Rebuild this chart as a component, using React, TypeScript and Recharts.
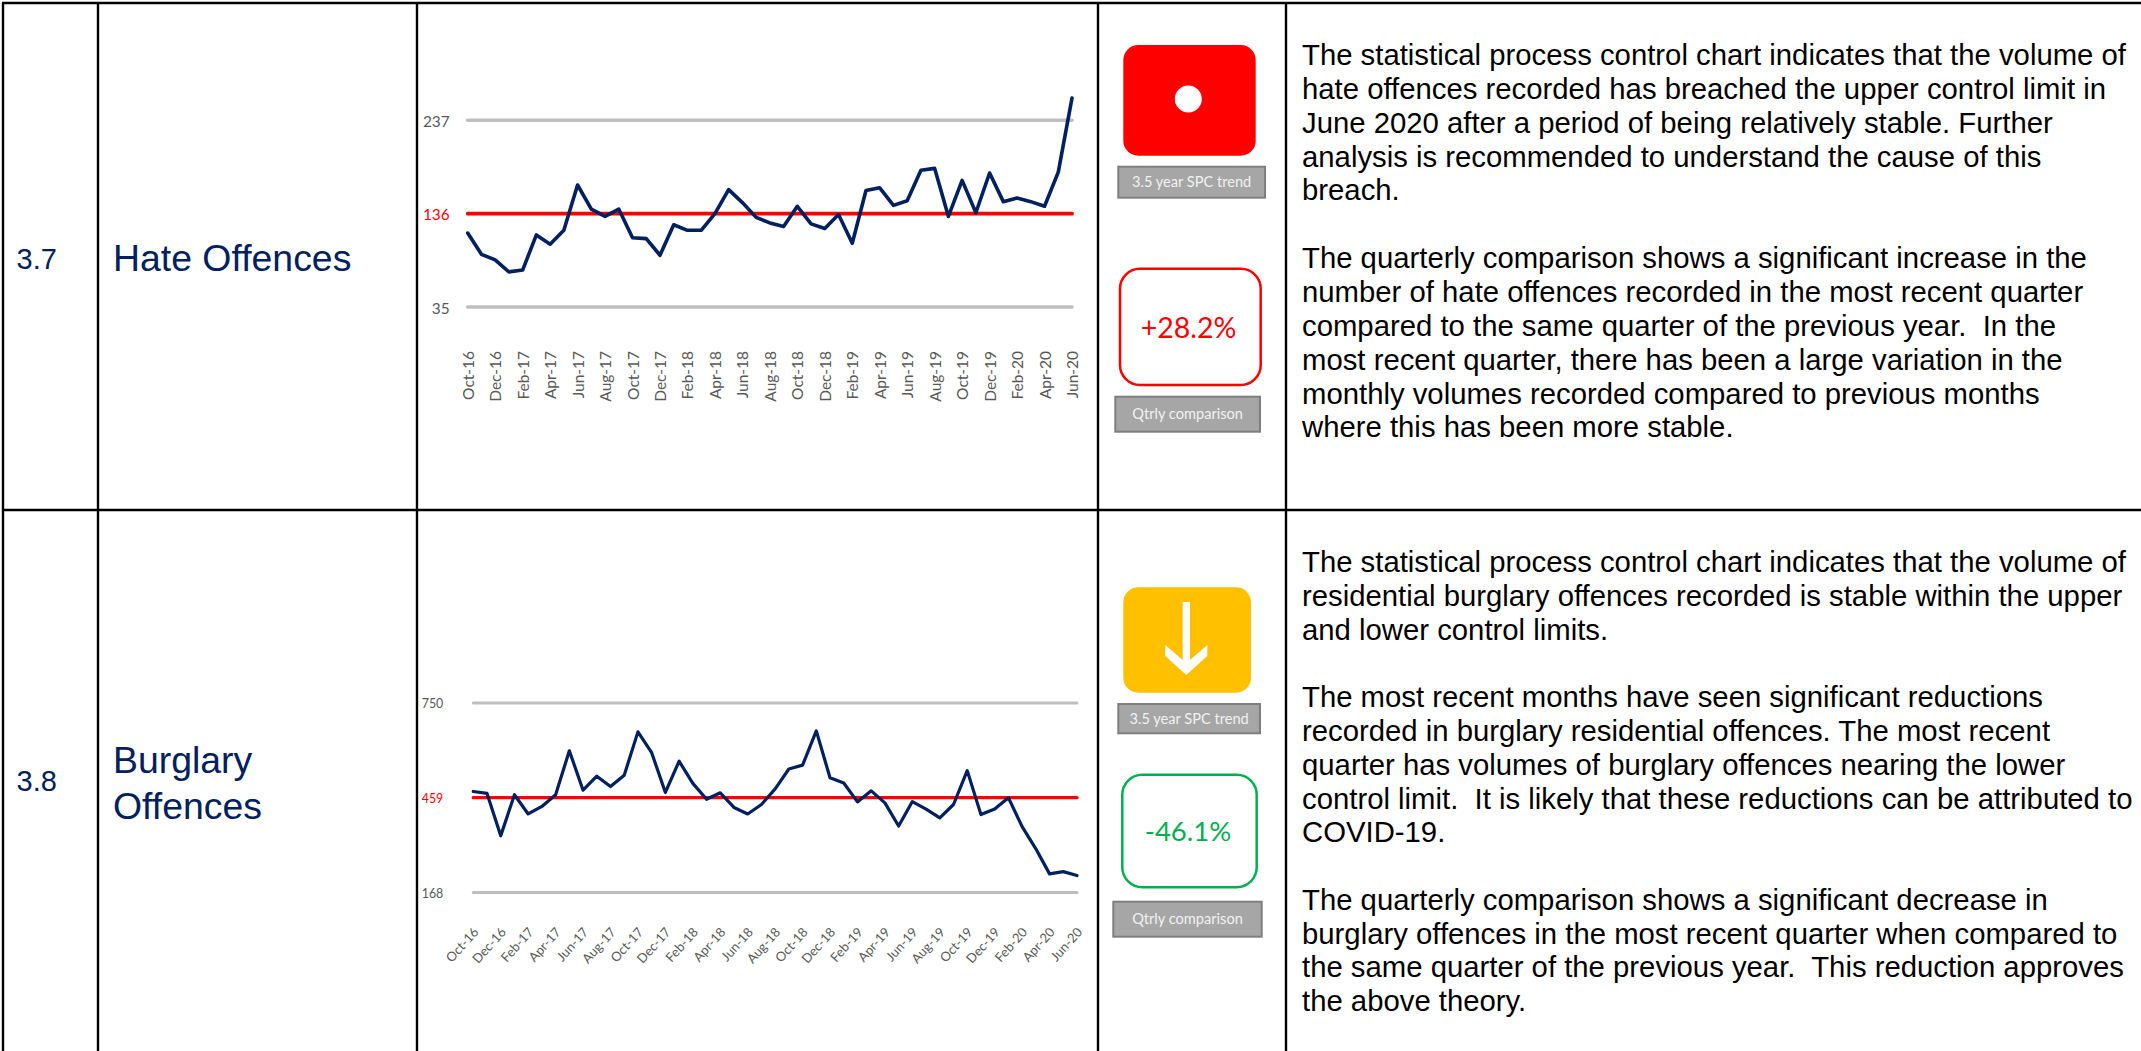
import { LineChart, Line, XAxis, YAxis } from 'recharts';

const months = [
  "Oct-16", "Nov-16", "Dec-16", "Jan-17", "Feb-17", "Mar-17", "Apr-17", "May-17", "Jun-17", "Jul-17", "Aug-17", "Sep-17",
  "Oct-17", "Nov-17", "Dec-17", "Jan-18", "Feb-18", "Mar-18", "Apr-18", "May-18", "Jun-18", "Jul-18", "Aug-18", "Sep-18",
  "Oct-18", "Nov-18", "Dec-18", "Jan-19", "Feb-19", "Mar-19", "Apr-19", "May-19", "Jun-19", "Jul-19", "Aug-19", "Sep-19",
  "Oct-19", "Nov-19", "Dec-19", "Jan-20", "Feb-20", "Mar-20", "Apr-20", "May-20", "Jun-20",
];

const hateValues = [
  115, 92, 86, 73, 75, 113, 103, 118, 167, 141, 133, 141,
  110, 109, 91, 124, 118, 118, 136, 162, 148, 132, 126, 122,
  144, 125, 120, 135, 104, 161, 164, 145, 150, 183, 185, 133,
  172, 137, 180, 149, 153, 149, 144, 181, 261,
];
const hateLimits = { lower: 35, mean: 136, upper: 237 };

const burglaryValues = [
  478, 472, 342, 468, 409, 432, 468, 603, 482, 525, 493, 528,
  661, 597, 475, 571, 503, 454, 474, 429, 409, 438, 486, 547,
  559, 664, 520, 504, 446, 480, 443, 372, 447, 424, 397, 438,
  542, 407, 424, 459, 370, 302, 225, 232, 220,
];
const burglaryLimits = { lower: 168, mean: 459, upper: 750 };

const hateText = [
  "The statistical process control chart indicates that the volume of",
  "hate offences recorded has breached the upper control limit in",
  "June 2020 after a period of being relatively stable. Further",
  "analysis is recommended to understand the cause of this",
  "breach.",
  "",
  "The quarterly comparison shows a significant increase in the",
  "number of hate offences recorded in the most recent quarter",
  "compared to the same quarter of the previous year.  In the",
  "most recent quarter, there has been a large variation in the",
  "monthly volumes recorded compared to previous months",
  "where this has been more stable.",
];

const burglaryText = [
  "The statistical process control chart indicates that the volume of",
  "residential burglary offences recorded is stable within the upper",
  "and lower control limits.",
  "",
  "The most recent months have seen significant reductions",
  "recorded in burglary residential offences. The most recent",
  "quarter has volumes of burglary offences nearing the lower",
  "control limit.  It is likely that these reductions can be attributed to",
  "COVID-19.",
  "",
  "The quarterly comparison shows a significant decrease in",
  "burglary offences in the most recent quarter when compared to",
  "the same quarter of the previous year.  This reduction approves",
  "the above theory.",
];

const NAVY = "#002060";
const ARIAL = "'Liberation Sans', Arial, sans-serif";
const CALIBRI = "Lato, sans-serif";

const buildRows = (values: number[], limits: { lower: number; mean: number; upper: number }) =>
  months.map((month, i) => ({ month, value: values[i], ...limits }));

const YTick = ({ x, y, payload, mean, fontSize, dx }: any) => (
  <text
    x={x - dx}
    y={y}
    dy={fontSize * 0.36 + 1}
    textAnchor="end"
    fontFamily={CALIBRI}
    fontSize={fontSize}
    fill={payload.value === mean ? "#ff0000" : "#595959"}
  >
    {payload.value}
  </text>
);

const XTickUp = ({ x, y, payload }: any) => (
  <text
    transform={`translate(${x + 6},${y + 30}) rotate(-90)`}
    textAnchor="end"
    fontFamily={CALIBRI}
    fontSize={15.5}
    fill="#595959"
  >
    {payload.value}
  </text>
);

const XTickSlant = ({ x, y, payload }: any) => (
  <text
    transform={`translate(${x + 6},${y + 18}) rotate(-48)`}
    textAnchor="end"
    fontFamily={CALIBRI}
    fontSize={13}
    fill="#595959"
  >
    {payload.value}
  </text>
);

const SpcChart = ({ rows, limits, domain, size, margin, yWidth, xHeight, XTick, yFont, yDx, widths }: any) => (
  <LineChart width={size[0]} height={size[1]} data={rows} margin={margin}>
    <XAxis
      dataKey="month"
      interval={1}
      height={xHeight}
      axisLine={false}
      tickLine={false}
      tickSize={0}
      tickMargin={0}
      tick={<XTick />}
    />
    <YAxis
      domain={domain}
      ticks={[limits.lower, limits.mean, limits.upper]}
      width={yWidth}
      axisLine={false}
      tickLine={false}
      tickSize={0}
      tickMargin={0}
      tick={<YTick mean={limits.mean} fontSize={yFont} dx={yDx} />}
    />
    <Line dataKey="upper" stroke="#bfbfbf" strokeWidth={widths[0]} strokeLinecap="round" dot={false} activeDot={false} isAnimationActive={false} />
    <Line dataKey="lower" stroke="#bfbfbf" strokeWidth={widths[0]} strokeLinecap="round" dot={false} activeDot={false} isAnimationActive={false} />
    <Line dataKey="mean" stroke="#ff0000" strokeWidth={widths[1]} strokeLinecap="round" dot={false} activeDot={false} isAnimationActive={false} />
    <Line dataKey="value" stroke={NAVY} strokeWidth={widths[2]} strokeLinecap="round" strokeLinejoin="round" dot={false} activeDot={false} isAnimationActive={false} />
  </LineChart>
);

const GreyLabel = ({ x, y, w, h, text }: any) => (
  <g>
    <rect x={x} y={y} width={w} height={h} fill="#a6a6a6" stroke="#7f7f7f" strokeWidth={2} />
    <text x={x + w / 2} y={y + h / 2 + 5} textAnchor="middle" fontFamily={CALIBRI} fontSize={14.6} fill="#f2f2f2">
      {text}
    </text>
  </g>
);

const Paragraphs = ({ lines, baseline, pitch }: any) => (
  <text fontFamily={ARIAL} fontSize={29.3} fill="#000000" style={{ whiteSpace: "pre" }}>
    {lines.map((line: string, i: number) => (
      <tspan key={i} x={1302} y={baseline + i * pitch}>
        {line}
      </tspan>
    ))}
  </text>
);

const Page = () => (
  <svg width={2141} height={1051} style={{ position: "absolute", left: 0, top: 0 }}>
    {/* table rules */}
    <g stroke="#000000" strokeWidth={2.4}>
      <line x1={2} y1={3} x2={2141} y2={3} />
      <line x1={2} y1={510} x2={2141} y2={510} />
      <line x1={3} y1={3} x2={3} y2={1051} />
      <line x1={98} y1={3} x2={98} y2={1051} />
      <line x1={417} y1={3} x2={417} y2={1051} />
      <line x1={1098} y1={3} x2={1098} y2={1051} />
      <line x1={1286} y1={3} x2={1286} y2={1051} />
    </g>

    <g fontFamily={ARIAL} fill={NAVY}>
      <text x={16.5} y={269} fontSize={29}>3.7</text>
      <text x={113} y={271} fontSize={37.4}>Hate Offences</text>
      <text x={16.5} y={790.5} fontSize={29}>3.8</text>
      <text x={113} y={772.7} fontSize={37.4}>Burglary</text>
      <text x={113} y={818.5} fontSize={37.4}>Offences</text>
    </g>

    {/* hate offences badges */}
    <rect x={1123.3} y={45} width={132.4} height={110.7} rx={15} fill="#ff0000" />
    <circle cx={1188.3} cy={99} r={13.5} fill="#ffffff" />
    <GreyLabel x={1118.3} y={166.7} w={146.7} h={31} text="3.5 year SPC trend" />
    <rect x={1120} y={268.7} width={140.7} height={116.3} rx={20} fill="#ffffff" stroke="#ff0000" strokeWidth={2.5} />
    <text x={1188.5} y={338} textAnchor="middle" fontFamily={CALIBRI} fontSize={28.5} fill="#ff0000">+28.2%</text>
    <GreyLabel x={1115.3} y={396.7} w={144.7} h={35} text="Qtrly comparison" />

    {/* burglary badges */}
    <rect x={1123.3} y={587.3} width={127.7} height={105.4} rx={15} fill="#ffc000" />
    <polygon
      points="1182.7,602 1190,602 1190,660 1207.3,645 1207.3,656 1186.3,675 1165.3,656 1165.3,645 1182.7,660"
      fill="#ffffff"
    />
    <GreyLabel x={1118.3} y={704} w={141.7} h={29.3} text="3.5 year SPC trend" />
    <rect x={1122.3} y={774.7} width={134.4} height={112.6} rx={20} fill="#ffffff" stroke="#00b050" strokeWidth={2.5} />
    <text x={1188} y={841} textAnchor="middle" fontFamily={CALIBRI} fontSize={27.5} fill="#00b050">-46.1%</text>
    <GreyLabel x={1113.3} y={901.7} w={148.4} h={35} text="Qtrly comparison" />

    <Paragraphs lines={hateText} baseline={65} pitch={33.85} />
    <Paragraphs lines={burglaryText} baseline={572.4} pitch={33.75} />
  </svg>
);

export default function App() {
  return (
    <div style={{ position: "absolute", left: 0, top: 0, width: 2141, height: 1051, overflow: "hidden", background: "#ffffff" }}>
      <Page />
      <div style={{ position: "absolute", left: 420, top: 70 }}>
        <SpcChart
          rows={buildRows(hateValues, hateLimits)}
          limits={hateLimits}
          domain={[20, 270]}
          size={[667, 350]}
          margin={{ top: 19.8, right: 15, bottom: 0, left: 0 }}
          yWidth={47.7}
          xHeight={99.1}
          XTick={XTickUp}
          yFont={15.4}
          yDx={18}
          widths={[3.6, 3.8, 3.6]}
        />
      </div>
      <div style={{ position: "absolute", left: 420, top: 670 }}>
        <SpcChart
          rows={buildRows(burglaryValues, burglaryLimits)}
          limits={burglaryLimits}
          domain={[100, 800]}
          size={[670, 330]}
          margin={{ top: 16.6, right: 13, bottom: 0, left: 0 }}
          yWidth={53.3}
          xHeight={85.4}
          XTick={XTickSlant}
          yFont={12.4}
          yDx={30}
          widths={[3, 3.4, 3.2]}
        />
      </div>
    </div>
  );
}
